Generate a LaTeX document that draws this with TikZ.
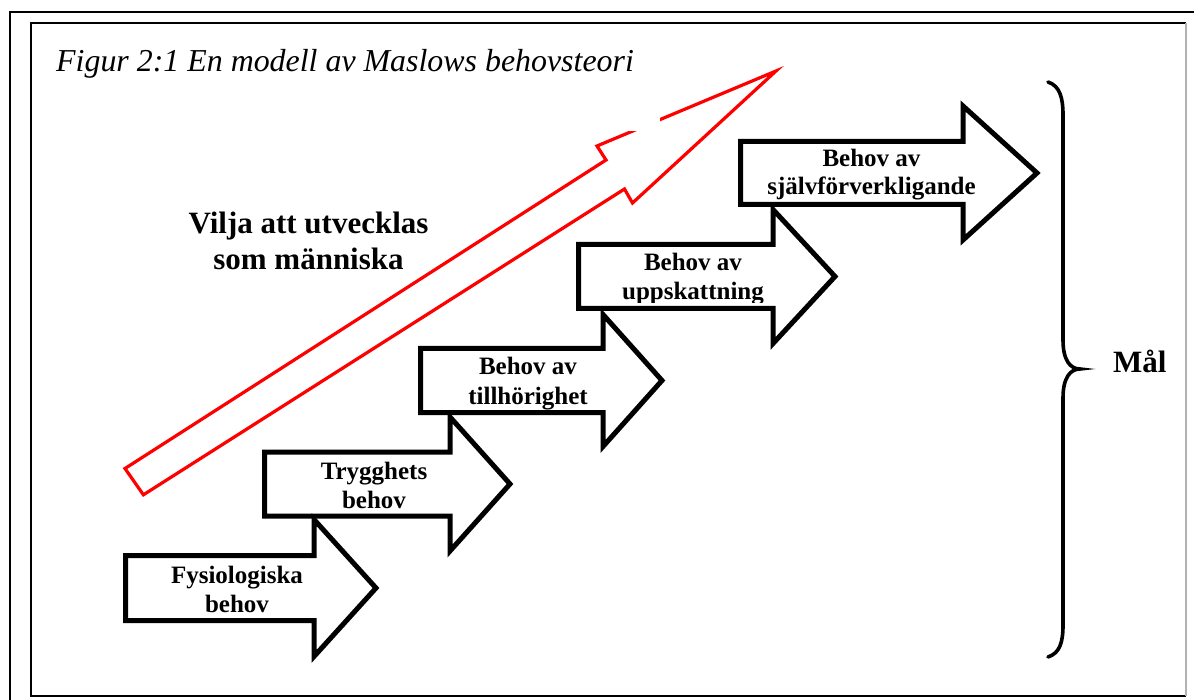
\documentclass[tikz,border=0pt]{standalone}
\usepackage{fontspec}
\setmainfont{Liberation Serif}
\tikzset{
  stepbox/.style={draw=black, fill=white, line width=5pt, line join=miter},
  needtext/.style={anchor=base, inner sep=0pt, font=\fontsize{25}{29}\selectfont\bfseries},
  bigtext/.style={inner sep=0pt, font=\fontsize{31}{36}\selectfont\bfseries},
  frameline/.style={line width=2.2pt, black},
}
% block arrow: left x, centre y, shaft end x, tip x, half shaft height, half head height
\newcommand\needarrow[6]{%
  \draw[stepbox] (#1,#2-#5) -- (#3,#2-#5) -- (#3,#2-#6) -- (#4,#2)
    -- (#3,#2+#6) -- (#3,#2+#5) -- (#1,#2+#5) -- cycle;}
\begin{document}
\begin{tikzpicture}[x=1pt,y=-1pt]
\useasboundingbox (0,0) rectangle (1194,700);

% double frame
\draw[frameline] (10,702) -- (10,12) -- (1196,12);
\draw[frameline] (1186,23) -- (31,23) -- (31,696) -- (1186,696);
\draw[line width=1.2pt, black!30] (1186,23) -- (1186,696);

% rising red arrow
\draw[red, line width=3.2pt, line join=miter]
  (125,468.5) -- (606,160) -- (597,146) -- (776,71)
  -- (632.5,203) -- (624.5,189) -- (143.4,494.8) -- cycle;

% title with its white text field
\fill[white] (40,30) rectangle (660,131);
\node[anchor=base west, inner sep=0pt, font=\fontsize{31.9}{38}\selectfont\itshape]
  (title) at (56,72) {Figur 2:1 En modell av Maslows behovsteori};

\node[bigtext, anchor=base] (will1) at (308.5,234) {Vilja att utvecklas};
\node[bigtext, anchor=base] (will2) at (308.5,270) {som människa};

% staircase of needs, top step first
\needarrow{740.5}{173}{963}{1037}{31.5}{67}
\needarrow{578.5}{276.5}{773}{835}{32}{67}
\needarrow{420.5}{380.5}{603}{662}{32}{66}
\needarrow{264.5}{484}{450}{510}{32}{67}
\needarrow{125.5}{588}{314}{376}{32.5}{68.5}

\node[needtext] (n5a) at (871.5,167) {Behov av};
\node[needtext] (n5b) at (871.5,195) {självförverkligande};
\begin{scope}
  \clip (560,200) rectangle (800,303);
  \node[needtext] (n4a) at (693,271) {Behov av};
  \node[needtext] (n4b) at (693,300) {uppskattning};
\end{scope}
\node[needtext] (n3a) at (528,374) {Behov av};
\node[needtext] (n3b) at (528,404) {tillhörighet};
\node[needtext] (n2a) at (374,479) {Trygghets};
\node[needtext] (n2b) at (374,508) {behov};
\node[needtext] (n1a) at (237,583) {Fysiologiska};
\node[needtext] (n1b) at (237,612) {behov};

% brace and goal label
\draw[line width=3.6pt, line cap=round]
  (1048,82) .. controls (1060,86) and (1063,98) .. (1063,115)
  -- (1063,340) .. controls (1063,360) and (1070,369) .. (1080,369)
  .. controls (1070,369) and (1063,378) .. (1063,398)
  -- (1063,625) .. controls (1063,642) and (1060,653) .. (1048,657);
\node[bigtext, anchor=base west] (goal) at (1113,373) {Mål};
\end{tikzpicture}
\end{document}
